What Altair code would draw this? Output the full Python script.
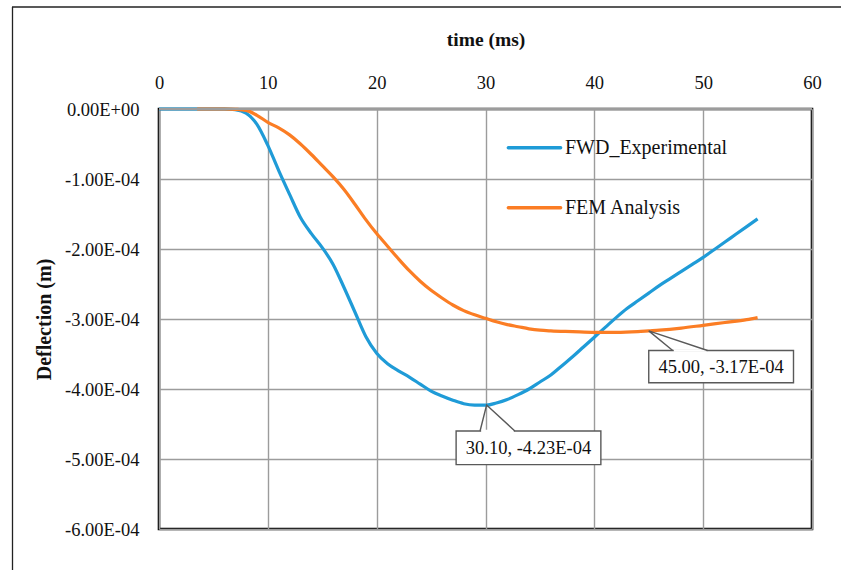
import altair as alt
import pandas as pd

# Falling weight deflectometer: measured vs. finite-element deflection history
SERIES = ["FWD_Experimental", "FEM Analysis"]
COLORS = ["#1f9bd7", "#fb7d24"]

TIME_FWD = [0, 2, 4, 6, 7, 8, 9, 10, 11, 12, 13, 14, 15, 16, 17, 18, 19, 20,
            21, 22, 23, 24, 25, 26, 27, 28, 29, 30.1, 31, 32, 33, 34, 35, 36,
            37, 38, 39, 40, 41, 42, 43, 44, 45, 46, 47, 48, 49, 50, 51, 52,
            53, 54, 55]
# deflection in units of 1e-4 m
DEFL_FWD = [0, 0, 0, 0, -0.01, -0.06, -0.22, -0.52, -0.88, -1.22, -1.55, -1.78,
            -1.98, -2.22, -2.55, -2.90, -3.25, -3.49, -3.64, -3.74, -3.83, -3.93,
            -4.03, -4.10, -4.16, -4.21, -4.23, -4.23, -4.20, -4.15, -4.08, -4.00,
            -3.90, -3.80, -3.67, -3.54, -3.40, -3.26, -3.12, -2.98, -2.85, -2.74,
            -2.63, -2.52, -2.42, -2.32, -2.22, -2.12, -2.01, -1.90, -1.79, -1.68,
            -1.57]

TIME_FEM = [3.5, 6, 7, 8, 9, 10, 11, 12, 13, 14, 15, 16, 17, 18, 19, 20, 21,
            22, 23, 24, 25, 26, 27, 28, 29, 30, 31, 32, 33, 34, 35, 36, 38, 40,
            42, 44, 45, 46, 48, 50, 52, 54, 55]
DEFL_FEM = [0, 0, -0.005, -0.02, -0.09, -0.19, -0.27, -0.37, -0.50, -0.65,
            -0.81, -0.97, -1.15, -1.36, -1.58, -1.78, -1.96, -2.14, -2.31,
            -2.46, -2.59, -2.70, -2.80, -2.88, -2.94, -2.99, -3.04, -3.08,
            -3.11, -3.14, -3.16, -3.17, -3.18, -3.19, -3.19, -3.18, -3.17,
            -3.16, -3.13, -3.09, -3.05, -3.01, -2.98]

# highlighted data points (time ms, deflection 1e-4 m, label)
CALLOUT_T = [30.10, 45.00]
CALLOUT_D = [-4.23, -3.17]
CALLOUT_TEXT = ["30.10, -4.23E-04", "45.00, -3.17E-04"]

X_TICKS = [0, 10, 20, 30, 40, 50, 60]
Y_TICKS = [0, -1e-4, -2e-4, -3e-4, -4e-4, -5e-4, -6e-4]

SCALE = 1e-4
FONT = "Liberation Serif"
GRID = "#9c9c9c"
BOX = "#595959"

fwd = pd.DataFrame({"t": TIME_FWD, "d": [v * SCALE for v in DEFL_FWD], "s": SERIES[0]})
fem = pd.DataFrame({"t": TIME_FEM, "d": [v * SCALE for v in DEFL_FEM], "s": SERIES[1]})

xs = alt.Scale(domain=[0, 60], nice=False, zero=False)
ys = alt.Scale(domain=[-6e-4, 0], nice=False, zero=False)
cs = alt.Scale(domain=SERIES, range=COLORS)

x_axis = alt.Axis(orient="top", values=X_TICKS, title="time (ms)", grid=True,
                  gridColor=GRID, gridWidth=1.4, domain=False, ticks=False,
                  labelFlush=False, labelPadding=17, titlePadding=24,
                  labelFontSize=18.5, titleFontSize=19.5, labelFont=FONT,
                  titleFont=FONT, titleFontWeight="bold", labelColor="#111",
                  titleColor="#111")
y_axis = alt.Axis(values=Y_TICKS, title="Deflection (m)", grid=True,
                  gridColor=GRID, gridWidth=1.4, domain=False, ticks=False,
                  labelFlush=False, labelPadding=20, titlePadding=10,
                  labelFontSize=18.5, titleFontSize=20, labelFont=FONT,
                  titleFont=FONT, titleFontWeight="bold", labelColor="#111",
                  titleColor="#111",
                  labelExpr="datum.value == 0 ? '0.00E+00' : '-' + format(-datum.value * 10000, '.2f') + 'E-04'")


def X(f="t"):
    return alt.X(f"{f}:Q", scale=xs, axis=x_axis)


def Y(f="d"):
    return alt.Y(f"{f}:Q", scale=ys, axis=y_axis)


fwd_line = alt.Chart(fwd).mark_line(strokeWidth=3.2, interpolate="monotone").encode(
    x=X(), y=Y(), color=alt.Color("s:N", scale=cs, legend=None))
fem_line = alt.Chart(fem).mark_line(strokeWidth=3.2, interpolate="monotone").encode(
    x=X(), y=Y(), color=alt.Color("s:N", scale=cs, legend=None))

# top edge of the plot is a gray gridline rather than a black border
top_edge = alt.Chart(pd.DataFrame({"d": [0.0]})).mark_rule(
    color=GRID, strokeWidth=2.2).encode(y=Y(), x=alt.value(0), x2=alt.value(653))

# in-plot legend
leg = pd.DataFrame({"s": SERIES, "t0": [32.1, 32.1], "t1": [36.9, 36.9],
                    "tx": [37.3, 37.3], "d": [-0.553e-4, -1.41e-4]})
leg_sym = alt.Chart(leg).mark_rule(strokeWidth=3.5, strokeCap="round").encode(
    x=X("t0"), x2="t1", y=Y(), color=alt.Color("s:N", scale=cs, legend=None))
leg_txt = alt.Chart(leg).mark_text(align="left", baseline="middle", font=FONT,
                                   fontSize=20, color="#111").encode(
    x=X("tx"), y=Y(), text="s:N")

# callout boxes: offsets (ms, 1e-4 m) from the highlighted point
BOX_DX = [(-2.8, 10.5), (0.0, 13.3)]
BOX_DY = [(-0.37, -0.85), (-0.28, -0.74)]
NOTCH_DX = [(-0.6, 2.6), (2.2, 5.4)]
rows, ptr = [], []
for i, (t, d, txt) in enumerate(zip(CALLOUT_T, CALLOUT_D, CALLOUT_TEXT)):
    x0, x1 = t + BOX_DX[i][0], t + BOX_DX[i][1]
    y0, y1 = (d + BOX_DY[i][0]) * SCALE, (d + BOX_DY[i][1]) * SCALE
    n0, n1 = t + NOTCH_DX[i][0], t + NOTCH_DX[i][1]
    rows.append({"x0": x0, "x1": x1, "y0": y0, "y1": y1, "n0": n0 + 0.1,
                 "n1": n1 - 0.1, "xc": (x0 + x1) / 2, "yc": (y0 + y1) / 2,
                 "label": txt})
    for k, (px, py) in enumerate([(n0, y0), (t, d * SCALE), (n1, y0)]):
        ptr.append({"id": i, "k": k, "t": px, "d": py})
boxes = pd.DataFrame(rows)
ptrs = pd.DataFrame(ptr)

box = alt.Chart(boxes).mark_rect(fill="white", stroke=BOX, strokeWidth=1.4).encode(
    x=X("x0"), x2="x1", y=Y("y0"), y2="y1")
notch = alt.Chart(boxes).mark_rule(color="white", strokeWidth=2.5).encode(
    x=X("n0"), x2="n1", y=Y("y0"))
pointer = alt.Chart(ptrs).mark_line(color=BOX, strokeWidth=1.4).encode(
    x=X(), y=Y(), detail="id:N", order="k:Q")
box_txt = alt.Chart(boxes).mark_text(font=FONT, fontSize=18.5, color="#111",
                                     baseline="middle").encode(
    x=X("xc"), y=Y("yc"), text="label:N")

# outer chart border (top and left edges)
frame_top = alt.Chart(pd.DataFrame({"a": [0]})).mark_rule(
    color="#222", strokeWidth=1.3).encode(
    x=alt.value(-147), x2=alt.value(690), y=alt.value(-102))
frame_left = alt.Chart(pd.DataFrame({"a": [0]})).mark_rule(
    color="#222", strokeWidth=1.3).encode(
    x=alt.value(-146.5), y=alt.value(-102), y2=alt.value(470))

chart = alt.layer(
    fwd_line, fem_line, top_edge, leg_sym, leg_txt,
    box, notch, pointer, box_txt, frame_top, frame_left,
).properties(
    width=653, height=420, autosize="none",
    padding={"left": 159, "top": 109, "right": 29, "bottom": 41},
).configure(
    background="white"
).configure_view(
    stroke="black", strokeWidth=2.6
)

chart.save("out.html", embed_options={"renderer": "svg", "actions": False})
